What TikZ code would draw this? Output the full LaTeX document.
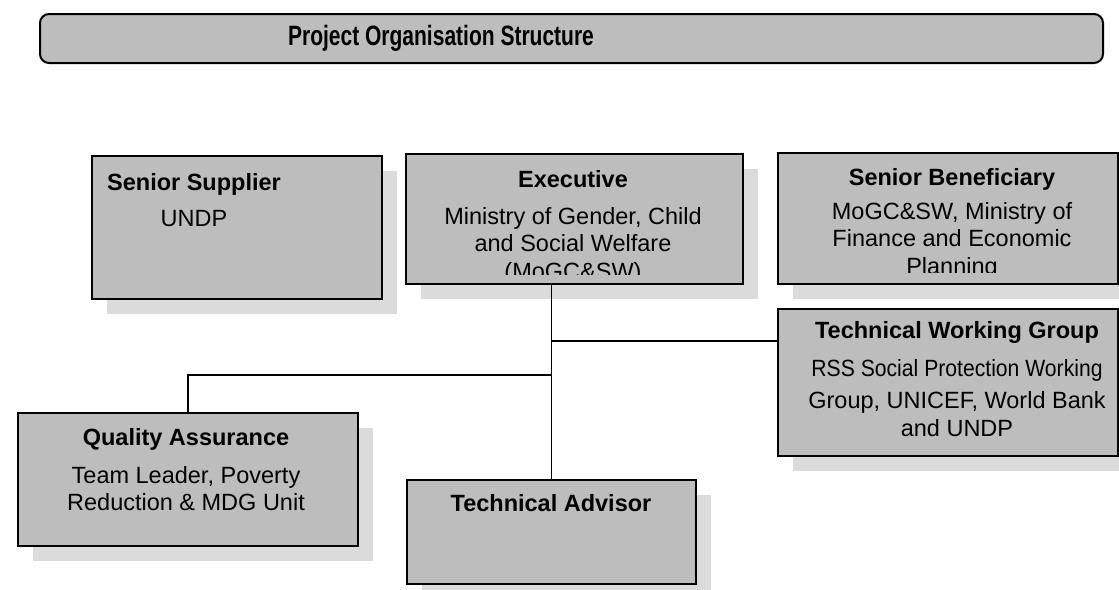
\documentclass[tikz,border=0pt]{standalone}
\usepackage{fontspec}
\setmainfont{Liberation Sans}
\newfontfamily\titlefont[FakeStretch=0.75]{Liberation Sans}
\newfontfamily\narrowfont[FakeStretch=0.9]{Liberation Sans}
\usetikzlibrary{positioning,shadows}

\begin{document}
\begin{tikzpicture}[x=1pt,y=-1pt,
                box/.style={draw=black,line width=1.8pt,fill=black!26,inner sep=0pt,anchor=north west,
                    drop shadow={shadow xshift=15pt,shadow yshift=-15pt,fill=black!14,opacity=1}},
                boxtext/.style={anchor=north,inner sep=0pt,align=center,font=\fontsize{23.5}{27.5}\selectfont},
                link/.style={line width=1.8pt}]
                \useasboundingbox (0,0) rectangle (1119,589);
                \node[draw=black,line width=2pt,fill=black!26,rounded corners=9pt,inner sep=0pt,anchor=north west,
                    minimum width=1063pt,minimum height=49pt] (title) at (39,13) {};
                \node[inner sep=0pt,font=\titlefont\bfseries\fontsize{28}{32}\selectfont] (titletext) at (441,38) {Project Organisation Structure};
                \node[box,minimum width=290pt,minimum height=143pt] (supplier) at (91,155) {};
                \node[box,minimum width=337pt,minimum height=130pt] (exe) at (405,153) {};
                \node[box,minimum width=340pt,minimum height=131pt] (ben) at (777,152) {};
                \node[box,minimum width=340pt,minimum height=147pt] (twg) at (777,308) {};
                \node[box,minimum width=340pt,minimum height=133pt] (qa) at (17,412) {};
                \node[box,minimum width=289pt,minimum height=104pt] (ta) at (406,479) {};
                \node[boxtext] (suppliertext) at (194,173.5) {\textbf{Senior Supplier}\\[8pt] UNDP};
                \begin{scope}
                    \clip (exe.north west) rectangle ([yshift=10pt]exe.south east);
                    \node[boxtext] (exetext) at (573,170.5) {\textbf{Executive}\\[9pt] Ministry of Gender, Child\\ and Social Welfare\\ (MoGC\&SW)};
                \end{scope}
                \begin{scope}
                    \clip (ben.north west) rectangle ([yshift=12pt]ben.south east);
                    \node[boxtext] (bentext) at (952,168.5) {\textbf{Senior Beneficiary}\\[6pt] MoGC\&SW, Ministry of\\ Finance and Economic\\ Planning};
                \end{scope}
                \node[boxtext] (twgtext) at (957,321.5) {\textbf{Technical Working Group}\\[10pt] {\narrowfont RSS Social Protection Working}\\[5pt] Group, UNICEF, World Bank\\ and UNDP};
                \node[boxtext] (qatext) at (186,428.5) {\textbf{Quality Assurance}\\[10pt] Team Leader, Poverty\\ Reduction \& MDG Unit};
                \node[boxtext] (tatext) at (551,494.5) {\textbf{Technical Advisor}};
                \coordinate (twgjoin) at (551,341);
                \coordinate (qajoin) at (551,375);
                \draw[link] (ta.north |- exe.south) -- (ta.north);
                \draw[link] (twgjoin) -- (twgjoin -| twg.west);
                \draw[link] (qajoin) -| (qa.north);
            \end{tikzpicture}
\end{document}
